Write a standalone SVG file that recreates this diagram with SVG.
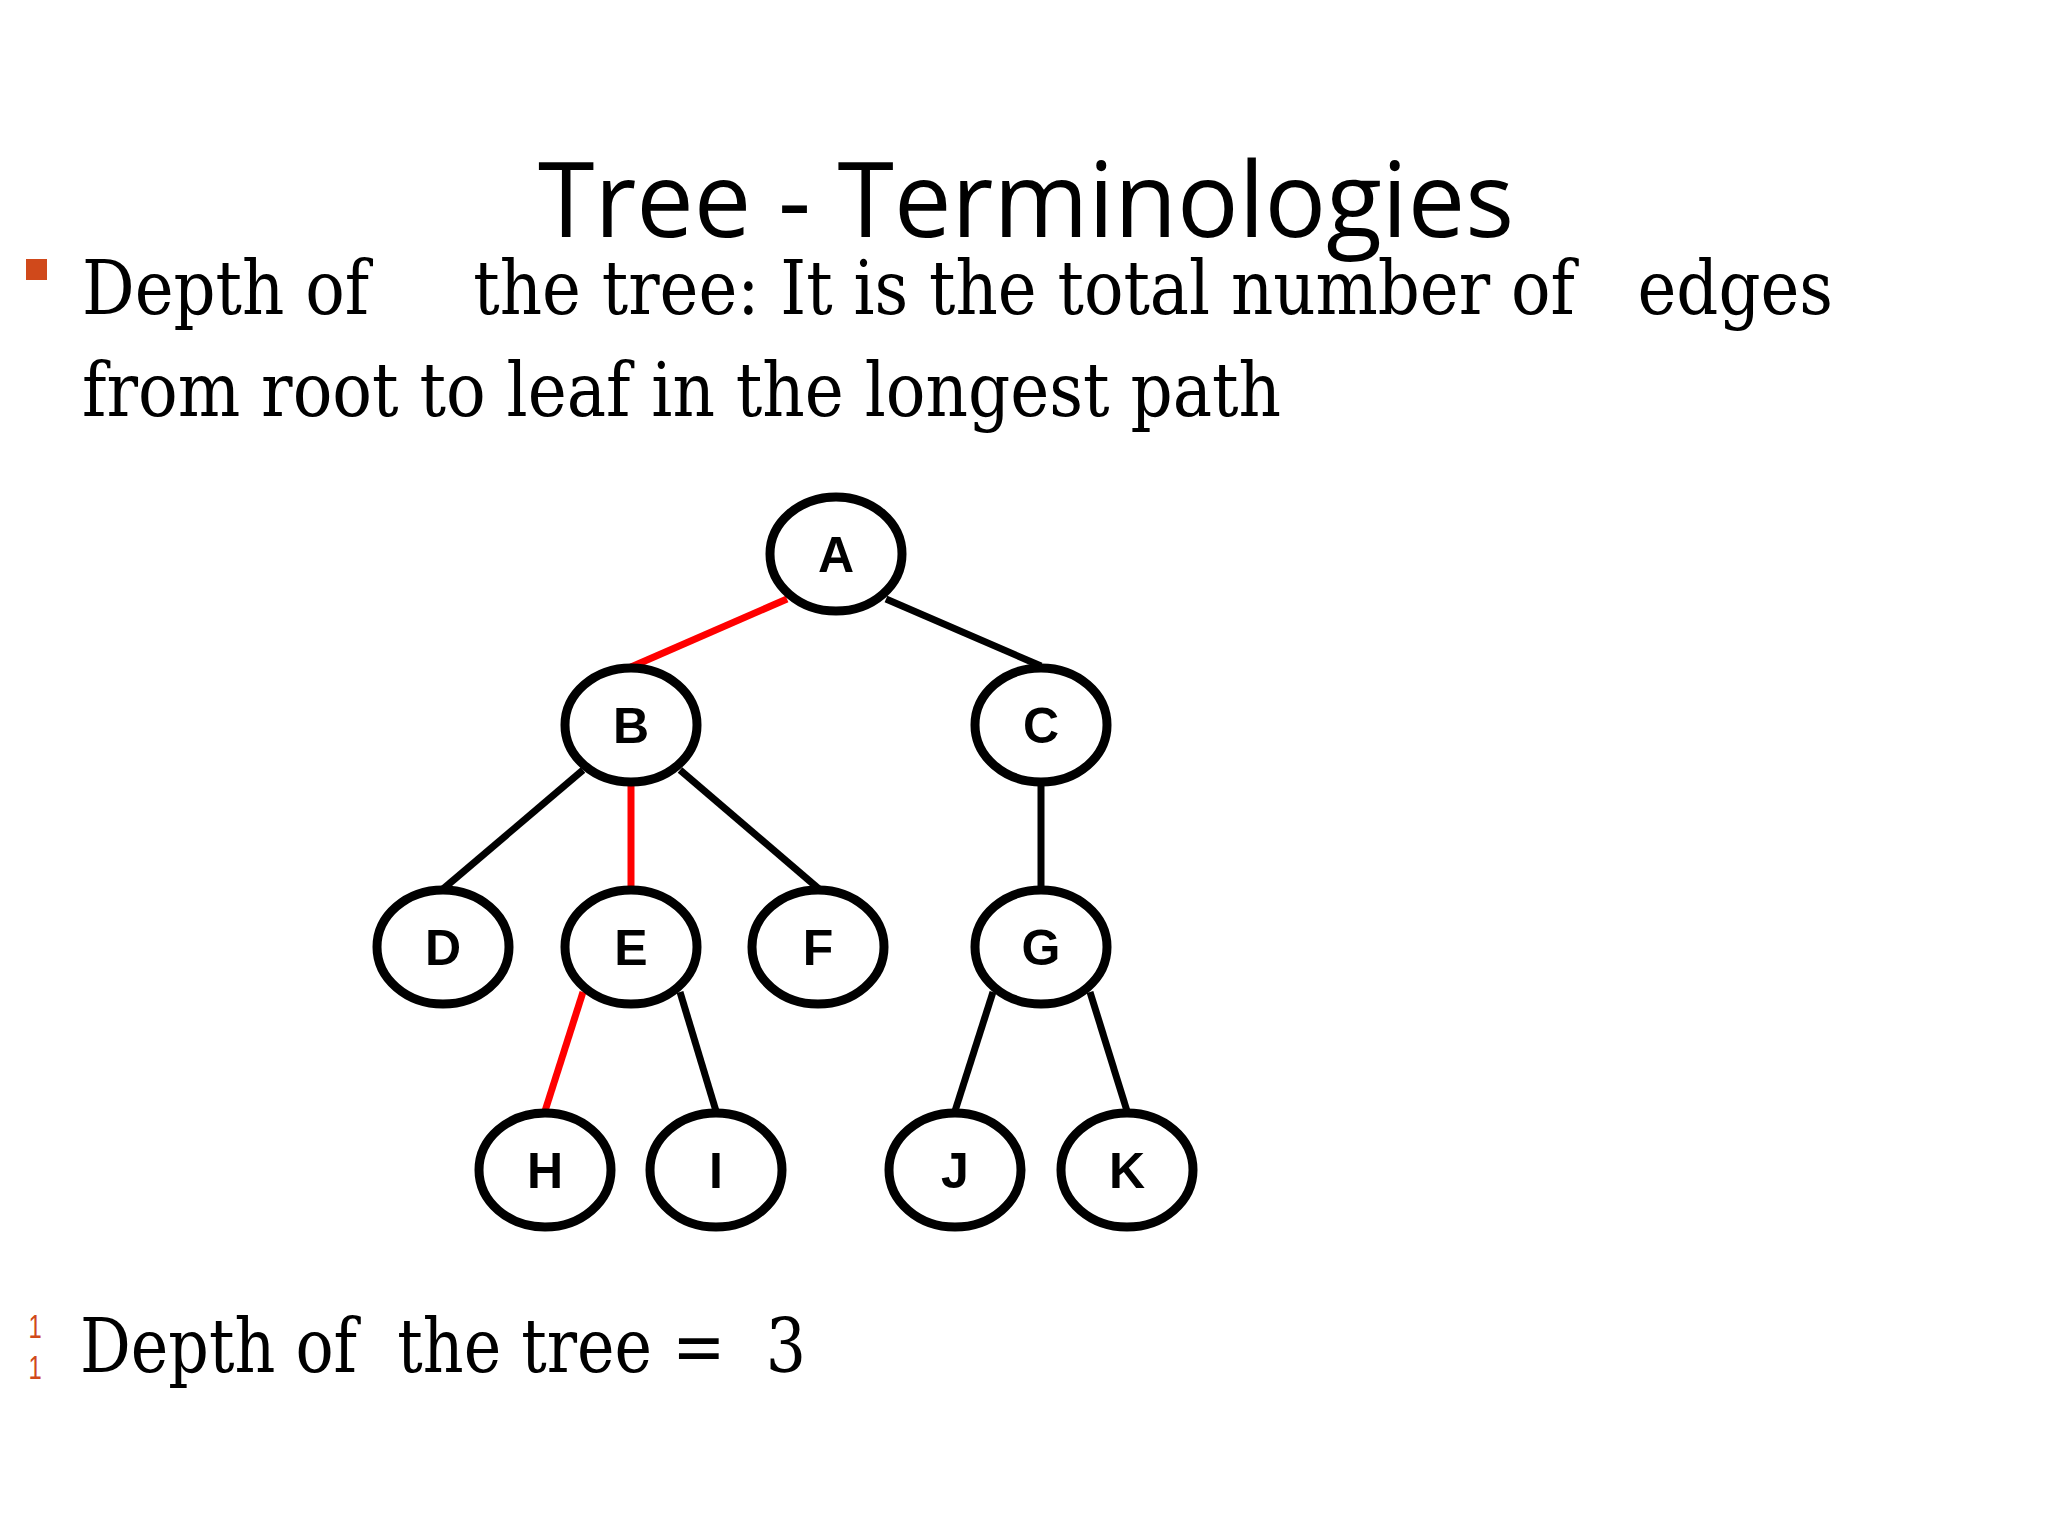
<svg xmlns="http://www.w3.org/2000/svg" width="2048" height="1536" viewBox="0 0 2048 1536">
<style>
.n ellipse{fill:#fff;stroke:#000;stroke-width:9}
.n text{font-family:"Liberation Sans",Arial,sans-serif;font-weight:bold;font-size:50px;text-anchor:middle}
.s{font-family:"DejaVu Serif Condensed","DejaVu Serif",serif;font-size:75px}
.o{font-family:"Liberation Sans",sans-serif;font-size:34px;fill:#d0491b;text-anchor:middle}
#edges line{stroke:#000;stroke-width:7}
#edges line.r{stroke:#f00}
</style>
<rect width="2048" height="1536" fill="#fff"/>
<text x="1026" y="237" font-family="Open Sans,sans-serif" font-size="104" text-anchor="middle" textLength="976" lengthAdjust="spacingAndGlyphs">Tree - Terminologies</text>
<rect x="26" y="259" width="21" height="21" fill="#d0491b"/>
<text class="s" x="82" y="314" textLength="1751" lengthAdjust="spacingAndGlyphs" xml:space="preserve">Depth of     the tree: It is the total number of   edges</text>
<text class="s" x="82" y="416" textLength="1199" lengthAdjust="spacingAndGlyphs">from root to leaf in the longest path</text>
<text class="o" x="35" y="1338" transform="translate(35 1338) scale(0.7 1) translate(-35 -1338)">1</text>
<text class="o" x="35" y="1379" transform="translate(35 1379) scale(0.7 1) translate(-35 -1379)">1</text>
<text class="s" x="80" y="1372" textLength="726" lengthAdjust="spacingAndGlyphs" xml:space="preserve">Depth of  the tree =  3</text>
<g id="edges">
<line class="r" x1="787" y1="599" x2="631" y2="667"/>
<line x1="886" y1="599" x2="1041" y2="666"/>
<line x1="583" y1="770" x2="443" y2="889"/>
<line class="r" x1="631" y1="786" x2="631" y2="888"/>
<line x1="680" y1="770" x2="819" y2="889"/>
<line x1="1041" y1="786" x2="1041" y2="888"/>
<line class="r" x1="583" y1="992" x2="545" y2="1111"/>
<line x1="680" y1="992" x2="716" y2="1111"/>
<line x1="993" y1="992" x2="955" y2="1111"/>
<line x1="1090" y1="992" x2="1127" y2="1111"/>
</g>
<g id="A" class="n"><ellipse cx="836" cy="554" rx="66" ry="57"/><text x="836" y="572">A</text></g>
<g id="B" class="n"><ellipse cx="631" cy="725" rx="66" ry="57"/><text x="631" y="743">B</text></g>
<g id="C" class="n"><ellipse cx="1041" cy="725" rx="66" ry="57"/><text x="1041" y="743">C</text></g>
<g id="D" class="n"><ellipse cx="443" cy="947" rx="66" ry="57"/><text x="443" y="965">D</text></g>
<g id="E" class="n"><ellipse cx="631" cy="947" rx="66" ry="57"/><text x="631" y="965">E</text></g>
<g id="F" class="n"><ellipse cx="818" cy="947" rx="66" ry="57"/><text x="818" y="965">F</text></g>
<g id="G" class="n"><ellipse cx="1041" cy="947" rx="66" ry="57"/><text x="1041" y="965">G</text></g>
<g id="H" class="n"><ellipse cx="545" cy="1170" rx="66" ry="57"/><text x="545" y="1188">H</text></g>
<g id="I" class="n"><ellipse cx="716" cy="1170" rx="66" ry="57"/><text x="716" y="1188">I</text></g>
<g id="J" class="n"><ellipse cx="955" cy="1170" rx="66" ry="57"/><text x="955" y="1188">J</text></g>
<g id="K" class="n"><ellipse cx="1127" cy="1170" rx="66" ry="57"/><text x="1127" y="1188">K</text></g>
</svg>
